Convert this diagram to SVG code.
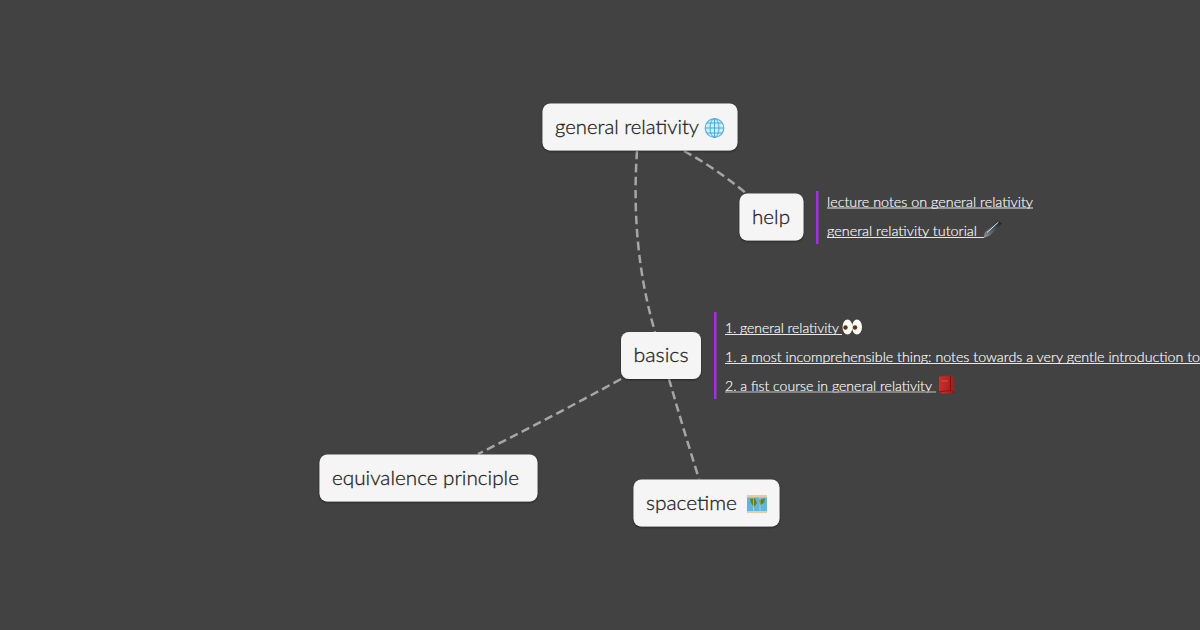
<svg xmlns="http://www.w3.org/2000/svg" width="1200" height="630" viewBox="0 0 1200 630">
<defs>
<filter id="sh" x="-10%" y="-20%" width="120%" height="150%"><feDropShadow dx="0" dy="1" stdDeviation="1" flood-color="#000" flood-opacity="0.45"/></filter>
<linearGradient id="pen" x1="0" y1="1" x2="1" y2="0"><stop offset="0" stop-color="#b09a80"/><stop offset="0.25" stop-color="#6a7480"/><stop offset="1" stop-color="#14181e"/></linearGradient>
<linearGradient id="book" x1="0" y1="0" x2="1" y2="0"><stop offset="0" stop-color="#c9302c"/><stop offset="1" stop-color="#a01c1c"/></linearGradient>
</defs>
<style>
.bg{fill:#424242}
.node{fill:#f5f5f5;filter:url(#sh)}
.label{font-family:"Lato","Open Sans",sans-serif;font-size:20px;font-weight:300;fill:#1f1f1f;stroke:#1f1f1f;stroke-width:.3}
.link{font-family:"Lato","Open Sans",sans-serif;font-size:14px;font-weight:300;fill:#ffffff;stroke:#ffffff;stroke-width:.15}
.conn{fill:none;stroke:#a6a6a6;stroke-width:2.500;stroke-dasharray:8.500 4.500}
.bar{fill:#a330e0}
.ul{stroke:#e8e8e8;stroke-width:1}
</style>
<rect class="bg" width="1200" height="630"/>
<g id="connectors">
<path class="conn" d="M637 151 C634 195 634 260 655 332"/>
<path class="conn" d="M684 151 Q717 169 747 194"/>
<path class="conn" d="M621 379 Q550 418 478 454"/>
<path class="conn" d="M669 379 Q683 428 699 479"/>
</g>
<g id="node-general-relativity">
<rect class="node" x="542.500" y="103.500" width="195" height="47" rx="8"/>
<text class="label" x="555" y="134" textLength="144" lengthAdjust="spacingAndGlyphs">general relativity</text>
<g>
<circle cx="714.500" cy="128" r="9.300" fill="#cfeefa" stroke="#5ab4e0" stroke-width="1.200"/>
<ellipse cx="714.500" cy="128" rx="4.500" ry="9.300" fill="none" stroke="#4aa8dc" stroke-width="1"/>
<path d="M714.500 118.700V137.300M705.200 128H723.800M706.800 123H722.200M706.800 133H722.200" stroke="#4aa8dc" stroke-width="1" fill="none"/>
</g>
</g>
<g id="node-help">
<rect class="node" x="739.500" y="193.500" width="64" height="47" rx="8"/>
<text class="label" x="752" y="224" textLength="38" lengthAdjust="spacingAndGlyphs">help</text>
<rect class="bar" x="816" y="191" width="2.500" height="53"/>
<text class="link" x="827" y="207" textLength="206" lengthAdjust="spacingAndGlyphs">lecture notes on general relativity</text>
<line class="ul" x1="827" y1="208" x2="1033" y2="208"/>
<text class="link" x="827" y="236" textLength="150" lengthAdjust="spacingAndGlyphs">general relativity tutorial</text>
<line class="ul" x1="827" y1="237.500" x2="984" y2="237.500"/>
<path d="M983.500 238 L985 232 L998 220.500 L1002 223.500 L990 235.500 Z" fill="url(#pen)"/>
<path d="M987 232.500 L998.500 222" stroke="#dfe6ee" stroke-width="1"/>
</g>
<g id="node-basics">
<rect class="node" x="621" y="332" width="80" height="47" rx="8"/>
<text class="label" x="633.500" y="362" textLength="55" lengthAdjust="spacingAndGlyphs">basics</text>
<rect class="bar" x="714" y="312" width="2.500" height="87"/>
<text class="link" x="725" y="333" textLength="114" lengthAdjust="spacingAndGlyphs">1. general relativity</text>
<line class="ul" x1="725" y1="334.500" x2="842" y2="334.500"/>
<ellipse cx="847.500" cy="327" rx="5" ry="7.500" fill="#fbfaf3"/>
<ellipse cx="857" cy="327" rx="5" ry="7.500" fill="#fbfaf3"/>
<circle cx="845.500" cy="327.500" r="2.200" fill="#5a3510"/>
<circle cx="855" cy="327.500" r="2.200" fill="#5a3510"/>
<text class="link" x="725" y="362" textLength="475" lengthAdjust="spacingAndGlyphs">1. a most incomprehensible thing: notes towards a very gentle introduction to</text>
<line class="ul" x1="725" y1="363.500" x2="1200" y2="363.500"/>
<text class="link" x="725" y="391" textLength="207" lengthAdjust="spacingAndGlyphs">2. a fist course in general relativity</text>
<line class="ul" x1="725" y1="392" x2="936" y2="392" style="stroke:#9a9a9a;stroke-width:1.500"/>
<path d="M939 376.500 L950.500 375.500 L954.500 377.500 L954.500 393 L943 394 L939 392 Z" fill="url(#book)"/>
<path d="M950.500 376 V390.500 M939 391.800 L950.500 390.500 L954.500 393" stroke="#6e1313" stroke-width="0.800" fill="none"/>
<path d="M942 381H948" stroke="#d86060" stroke-width="0.800"/>
</g>
<g id="node-equivalence-principle">
<rect class="node" x="319.500" y="454.500" width="218" height="47" rx="8"/>
<text class="label" x="332" y="485" textLength="187" lengthAdjust="spacingAndGlyphs">equivalence principle</text>
</g>
<g id="node-spacetime">
<rect class="node" x="633.500" y="479.500" width="146" height="47" rx="8"/>
<text class="label" x="646" y="510" textLength="91" lengthAdjust="spacingAndGlyphs">spacetime</text>
<rect x="747" y="495" width="20" height="18" fill="#5db8e0"/>
<path d="M747 495H767V497.500H747ZM747 511H767V513H747Z" fill="#eec9a0"/>
<path d="M750 499 L755 498 L757 503 L754 507 L751 503Z M759 500 L765 498.500 L764 503 L760 505Z" fill="#6f7f1f"/>
<path d="M753.500 497.500V511M760 497.500V511" stroke="#cfe8f0" stroke-width="0.500"/>
</g>
</svg>
